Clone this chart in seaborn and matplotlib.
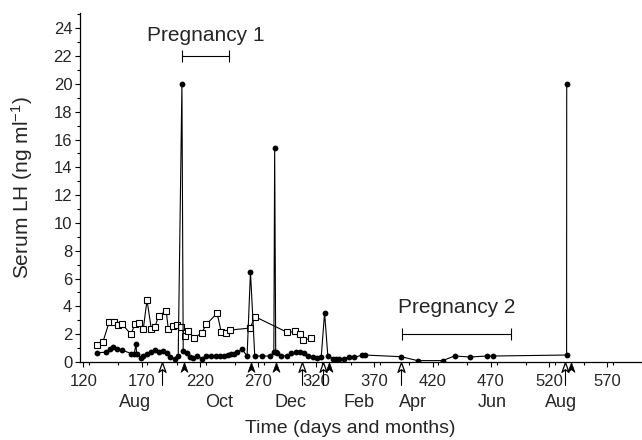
import numpy as np
import pandas as pd
import seaborn as sns
import matplotlib.pyplot as plt
from matplotlib.path import Path
from matplotlib.ticker import MultipleLocator

# Serum LH, filled circles
circle_day = [132, 139.5, 142.9, 145.7, 149.2, 153.4, 160.9, 163.5, 165.2, 165.6,
              169.2, 171.4, 174.9, 177.8, 181.5, 185.2, 188.6, 191.5, 194.3, 198.3,
              201.4, 204.6, 205.7, 208.6, 211.5, 214.3, 217.7, 221.7, 225.7, 230,
              233.7, 237.1, 240.6, 243.8, 246.6, 249.4, 252.3, 256.3, 260.6, 263.5,
              267.2, 273.4, 280.6, 283.6, 284.3, 285.2, 286.3, 290, 294.9, 298.6,
              302.3, 306.3, 309.2, 313.2, 317.1, 320.6, 324.3, 327.2, 330, 334.3,
              337, 340, 344.3, 348.6, 352.9, 359.5, 362, 392.9, 407.1, 428.6,
              438.9, 452.3, 466.9, 472.3, 535.2, 535.3]
circle_lh = [0.67, 0.7, 0.91, 1.1, 0.93, 0.86, 0.6, 0.57, 1.3, 0.6,
             0.26, 0.43, 0.55, 0.74, 0.84, 0.74, 0.79, 0.65, 0.33, 0.24,
             0.43, 20.0, 0.82, 0.62, 0.38, 0.26, 0.43, 0.22, 0.43, 0.43,
             0.43, 0.45, 0.45, 0.5, 0.55, 0.6, 0.7, 0.91, 0.43, 6.5,
             0.43, 0.43, 0.43, 0.72, 15.4, 0.74, 0.62, 0.43, 0.43, 0.62,
             0.72, 0.72, 0.62, 0.43, 0.33, 0.26, 0.33, 3.55, 0.43, 0.24,
             0.2, 0.2, 0.24, 0.38, 0.33, 0.5, 0.5, 0.38, 0.1, 0.1,
             0.43, 0.36, 0.43, 0.43, 0.5, 20.0]

# Serum LH, open squares
square_day = [132, 136.6, 142, 146.3, 149.7, 153.4, 160.9, 164, 167.7, 171.4,
              174.6, 178.3, 181.5, 184.6, 191.1, 192.9, 196.9, 200, 203.5, 207.4,
              210, 215.1, 221.7, 225.4, 234.9, 238.3, 242.9, 246.3, 263.2, 267.4,
              295.2, 302, 305.7, 308.9, 315.2]
square_lh = [1.25, 1.42, 2.85, 2.85, 2.64, 2.7, 1.99, 2.7, 2.8, 2.37,
             4.46, 2.37, 2.54, 3.33, 3.67, 2.37, 2.61, 2.64, 2.54, 1.87,
             2.25, 1.73, 2.09, 2.7, 3.5, 2.18, 2.09, 2.3, 2.44, 3.26,
             2.13, 2.2, 2.04, 1.58, 1.7]

open_arrow_day = [187.6, 308.2, 325.9, 393.0, 534.0]
filled_arrow_day = [206.0, 263.6, 285.8, 331.2, 539.0]

xtick_days = list(range(120, 571, 50))
month_names = ["Aug", "Oct", "Dec", "Feb", "Apr", "Jun", "Aug"]
month_days = [164, 237, 297.5, 357, 403, 471.6, 530]

preg_labels = ["Pregnancy 1", "Pregnancy 2"]
preg_start = [204.8, 394]
preg_end = [245, 487]
preg_level = [22.0, 2.0]
preg_text_level = [23.5, 3.9]

sns.set_style("ticks")
plt.rcParams["font.family"] = ["Liberation Sans", "DejaVu Sans"]
plt.rcParams["mathtext.default"] = "regular"

fig = plt.figure(figsize=(6.42, 4.4), dpi=100)
ax = fig.add_axes([0.1246, 0.1773, 0.8754, 0.793])

sns.lineplot(x=square_day, y=square_lh, sort=False, estimator=None, ax=ax,
             color="black", lw=0.8, marker="s", ms=4.2, mfc="white",
             mec="black", mew=0.8, zorder=3)
sns.lineplot(x=circle_day, y=circle_lh, sort=False, estimator=None, ax=ax,
             color="black", lw=0.8, marker="o", ms=4.2, mfc="black",
             mec="black", mew=0, zorder=4)

# pregnancy bars
for lab, s, e, lv, tl in zip(preg_labels, preg_start, preg_end, preg_level, preg_text_level):
    ax.errorbar((s + e) / 2, lv, xerr=(e - s) / 2, color="black", lw=0.8,
                capsize=4.3, capthick=0.8, fmt="none")
    ax.text((s + e) / 2, tl, lab, ha="center", va="center", fontsize=15)

# arrows under the axis
chevron = Path([(0, 1), (0.72, -1), (0, -0.45), (-0.72, -1), (0, 1)],
               [Path.MOVETO, Path.LINETO, Path.LINETO, Path.LINETO, Path.CLOSEPOLY])
for d in open_arrow_day:
    ax.plot([d, d], [-0.5, -1.65], color="black", lw=0.8, clip_on=False, zorder=5)
ax.plot(open_arrow_day, [-0.33] * len(open_arrow_day), ls="none", marker=chevron,
        ms=7, mfc="white", mec="black", mew=0.9, clip_on=False, zorder=6)
ax.plot(filled_arrow_day, [-0.33] * len(filled_arrow_day), ls="none", marker=chevron,
        ms=7, mfc="black", mec="black", mew=0.5, clip_on=False, zorder=6)

# months row
trans = ax.get_xaxis_transform()
for m, d in zip(month_names, month_days):
    ax.text(d, -0.115, m, transform=trans, ha="center", va="center", fontsize=13)

ax.set_xlim(117, 600)
ax.set_ylim(0, 25.1)
ax.set_xticks(xtick_days)
ax.xaxis.set_minor_locator(MultipleLocator(25))
ax.yaxis.set_major_locator(MultipleLocator(2))
ax.yaxis.set_minor_locator(MultipleLocator(1))
ax.set_yticks(range(0, 25, 2))
ax.tick_params(axis="both", which="major", labelsize=12, length=3.5, width=0.8, color="black")
ax.tick_params(axis="x", which="major", pad=5)
ax.tick_params(axis="y", which="major", pad=2)
ax.tick_params(axis="both", which="minor", length=2, width=0.8, color="black")
for sp in ["left", "bottom"]:
    ax.spines[sp].set_linewidth(0.9)
    ax.spines[sp].set_color("black")
sns.despine(ax=ax)

ax.set_xlabel("Time (days and months)", fontsize=14)
ax.xaxis.set_label_coords(0.48, -0.165)
ax.set_ylabel("Serum LH (ng ml$^{-1}$)", fontsize=15)
ax.yaxis.set_label_coords(-0.08, 0.5)

fig.savefig("out.png", dpi=100)
